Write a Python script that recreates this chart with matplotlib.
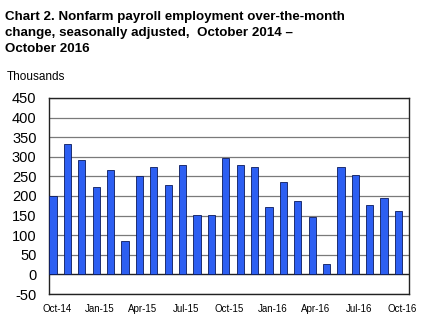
import matplotlib.pyplot as plt
import numpy as np

months = ['Oct-14', 'Nov-14', 'Dec-14', 'Jan-15', 'Feb-15', 'Mar-15', 'Apr-15',
          'May-15', 'Jun-15', 'Jul-15', 'Aug-15', 'Sep-15', 'Oct-15', 'Nov-15',
          'Dec-15', 'Jan-16', 'Feb-16', 'Mar-16', 'Apr-16', 'May-16', 'Jun-16',
          'Jul-16', 'Aug-16', 'Sep-16', 'Oct-16']
change = [200, 332, 292, 222, 266, 85, 252, 275, 229, 279, 152, 152, 297, 280,
          273, 171, 235, 186, 147, 27, 273, 253, 176, 194, 162]

plt.rcParams['font.family'] = ['Liberation Sans', 'DejaVu Sans']
plt.rcParams['axes.unicode_minus'] = False

fig = plt.figure(figsize=(4.24, 3.22), dpi=100)
ax = fig.add_axes([49/424, 1 - 294/322, 360/424, 196/322])

x = np.arange(len(months))
ax.bar(x, change, width=0.5, color='#2d5ff2', edgecolor='#0b1a5c', linewidth=0.6, zorder=3)

ax.set_ylim(-50, 450)
ax.set_yticks(range(-50, 451, 50))
ax.yaxis.grid(True, color='#7a7a7a', linewidth=0.9, zorder=0)
ax.axhline(0, color='#222222', linewidth=0.9, zorder=2)
ax.set_xlim(-0.28, 24.73)
ax.set_xticks(x[::3] + 0.25)
ax.set_xticklabels(months[::3], fontsize=7)
ax.tick_params(axis='x', length=0, pad=7)
ax.tick_params(axis='y', length=0, pad=9, labelsize=10.5)
for s in ax.spines.values():
    s.set_linewidth(1.0)
    s.set_color('#222222')

fig.text(0.012, 1 - 11/322, 'Chart 2. Nonfarm payroll employment over-the-month\n'
         'change, seasonally adjusted,  October 2014 \u2013\nOctober 2016',
         fontsize=9.6, fontweight='bold', va='top', ha='left', linespacing=1.45)
fig.text(0.017, 1 - 77/322, 'Thousands', fontsize=8.5, va='center', ha='left')

fig.savefig('out.png', dpi=100)
